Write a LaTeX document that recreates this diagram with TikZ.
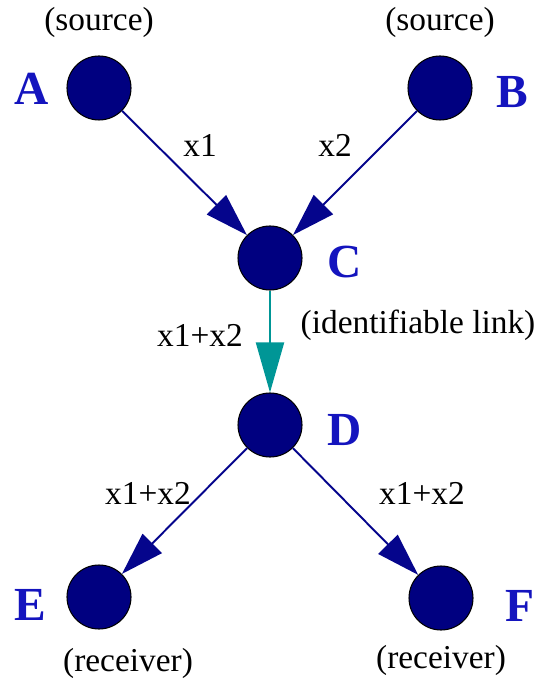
\documentclass[tikz,border=0pt]{standalone}
\usepackage{fontspec}
\setmainfont{Liberation Serif}
\usetikzlibrary{arrows.meta}
\definecolor{knavy}{RGB}{0,0,128}
\definecolor{kedge}{RGB}{5,5,140}
\definecolor{kletter}{RGB}{20,20,190}
\definecolor{kteal}{RGB}{0,150,150}
\tikzset{
  host/.style={circle, draw=black, line width=0.6pt, fill=knavy, minimum size=1.28cm, inner sep=0pt},
  hname/.style={font=\fontsize{27}{30}\selectfont\bfseries, text=kletter, inner sep=0pt},
  note/.style={font=\fontsize{19}{22}\selectfont, inner sep=0pt},
  flow/.style={-{Triangle[length=0.86cm, width=0.54cm]}, line width=1.1pt, draw=kedge, fill=kedge},
  tflow/.style={-{Triangle[length=1.0cm, width=0.56cm]}, line width=1.1pt, draw=kteal, fill=kteal},
}
\begin{document}
\begin{tikzpicture}
    \useasboundingbox (0,0) rectangle (10.82,-13.66);
    \node[host] (a) at (1.98,-1.76) {};
    \node[host] (b) at (8.80,-1.76) {};
    \node[host] (c) at (5.40,-5.16) {};
    \node[host] (d) at (5.40,-8.50) {};
    \node[host] (e) at (1.98,-11.94) {};
    \node[host] (f) at (8.82,-11.96) {};
    \node[hname] (la) at (0.64,-1.78) {A};
    \node[hname] (lb) at (10.24,-1.84) {B};
    \node[hname] (lc) at (6.90,-5.24) {C};
    \node[hname] (ld) at (6.90,-8.60) {D};
    \node[hname] (le) at (0.60,-12.10) {E};
    \node[hname] (lf) at (10.40,-12.12) {F};
    \node[note] (sa) at (1.98,-0.44) {(source)};
    \node[note] (sb) at (8.80,-0.44) {(source)};
    \node[note] (link) at (8.36,-6.50) {(identifiable link)};
    \node[note] (re) at (2.56,-13.26) {(receiver)};
    \node[note] (rf) at (8.82,-13.20) {(receiver)};
    \draw[flow] (a) -- (c);
    \draw[flow] (b) -- (c);
    \draw[tflow] (c) -- (d);
    \draw[flow] (d) -- (e);
    \draw[flow] (d) -- (f);
    \node[note] (x1) at (4.00,-2.90) {x1};
    \node[note] (x2) at (6.70,-2.90) {x2};
    \node[note] (xcd) at (4.00,-6.70) {x1+x2};
    \node[note] (xde) at (2.96,-9.86) {x1+x2};
    \node[note] (xdf) at (8.44,-9.86) {x1+x2};
  \end{tikzpicture}
\end{document}
